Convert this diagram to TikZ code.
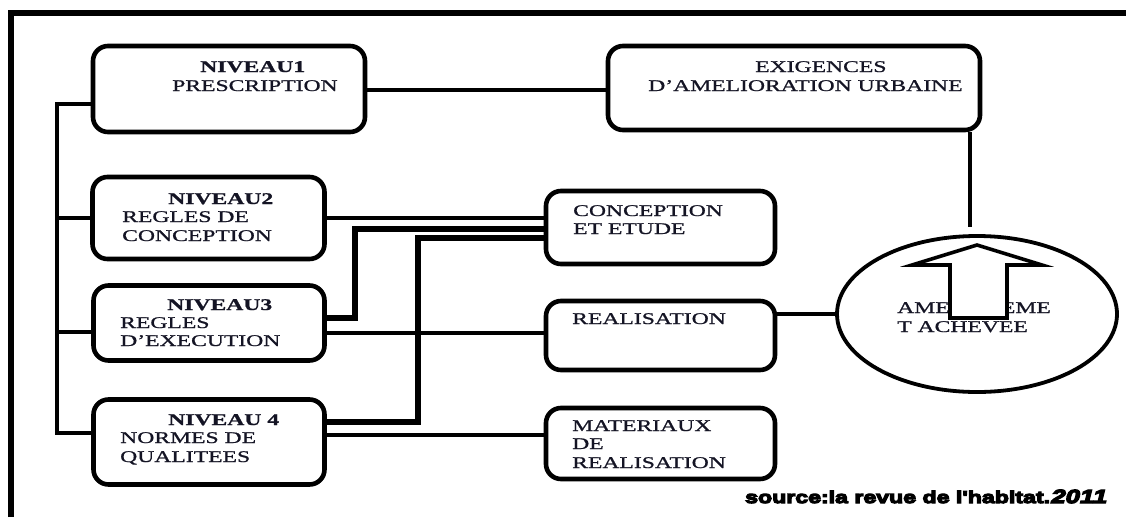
\documentclass[tikz,border=0pt]{standalone}
\usepackage{fontspec}
\setmainfont{Liberation Serif}[FakeStretch=1.45,FakeBold=1]
\newfontfamily\srcfont{Liberation Sans}[UprightFont={* Bold},FakeStretch=1.36,FakeBold=7]
\usetikzlibrary{shapes.geometric}
\definecolor{ink}{RGB}{20,20,36}
\begin{document}
\begin{tikzpicture}[x=1pt,y=-1pt,
  box/.style={draw,line width=4.6pt,rounded corners=15pt,inner sep=0pt},
  wire/.style={line width=4.6pt,line cap=rect},
  wirebig/.style={line width=6pt,line cap=rect},
  txt/.style={anchor=base west,inner sep=0pt,text=ink,font=\fontsize{16.3}{18}\selectfont},
  btxt/.style={txt,font=\fontsize{16.3}{18}\selectfont\bfseries}]
\useasboundingbox (0,0) rectangle (1126,517);

% open frame along the top and the left side
\draw[line width=5.5pt] (11,517) -- (11,13) -- (1126,13);

% boxes
\node[box,minimum width=272pt,minimum height=86pt] (n1) at (229,89) {};
\node[box,minimum width=372pt,minimum height=84pt] (ex) at (794,88) {};
\node[box,minimum width=232pt,minimum height=82pt] (n2) at (208.5,218) {};
\node[box,minimum width=231pt,minimum height=75pt] (n3) at (209,323) {};
\node[box,minimum width=231pt,minimum height=85pt] (n4) at (209,442) {};
\node[box,minimum width=229pt,minimum height=73pt] (conc) at (660.5,227.5) {};
\node[box,minimum width=229pt,minimum height=69pt] (real) at (660.5,335.5) {};
\node[box,minimum width=229pt,minimum height=71pt] (mat) at (660.5,443.5) {};
\node[draw,ellipse,line width=3.8pt,inner sep=0pt,minimum width=280pt,minimum height=156pt] (ell) at (977,314) {};

% texts
\node[btxt] (t1a) at (200,72) {NIVEAU1};
\node[txt]  (t1b) at (172,91) {PRESCRIPTION};
\node[txt]  (txa) at (755,72) {EXIGENCES};
\node[txt]  (txb) at (648,91) {D’AMELIORATION URBAINE};
\node[btxt] (t2a) at (168,204) {NIVEAU2};
\node[txt]  (t2b) at (122,222) {REGLES DE};
\node[txt]  (t2c) at (122,241) {CONCEPTION};
\node[btxt] (t3a) at (167,310) {NIVEAU3};
\node[txt]  (t3b) at (120,328) {REGLES};
\node[txt]  (t3c) at (120,346) {D’EXECUTION};
\node[btxt] (t4a) at (168,425) {NIVEAU 4};
\node[txt]  (t4b) at (120,443) {NORMES DE};
\node[txt]  (t4c) at (120,462) {QUALITEES};
\node[txt]  (tca) at (573,216) {CONCEPTION};
\node[txt]  (tcb) at (573,234) {ET ETUDE};
\node[txt]  (tra) at (572,324) {REALISATION};
\node[txt]  (tma) at (572,431) {MATERIAUX};
\node[txt]  (tmb) at (572,449) {DE};
\node[txt]  (tmc) at (572,468) {REALISATION};
\node[txt]  (tea) at (897,313) {AMENAGEME};
\node[txt]  (teb) at (897,332) {T ACHEVEE};

% hollow arrow inside the ellipse
\draw[line width=3.6pt,fill=white,line join=miter]
  (977,245) -- (1042,265) -- (1007,265) -- (1007,318) -- (950,318)
  -- (950,265) -- (912,265) -- cycle;

% left bus joining the four levels
\draw[wire] (n1.west |- 0,104) -- (57,104) -- (57,433) -- (n4.west |- 0,433);
\draw[wire] (57,218) -- (n2.west |- 0,218);
\draw[wire] (57,332) -- (n3.west |- 0,332);

% upper links
\draw[wire] (n1.east |- 0,90) -- (ex.west |- 0,90);
\coordinate (exend) at (970,227);
\draw[wire,line cap=butt] (ex.south -| exend) -- (exend);

% links into the right-hand column
\draw[wire] (n2.east |- 0,218) -- (conc.west |- 0,218);
\draw[wirebig] (n3.east |- 0,318) -- (355,318) -- (355,229) -- (conc.west |- 0,229);
\draw[wire] (n3.east |- 0,333) -- (real.west |- 0,333);
\draw[wirebig] (n4.east |- 0,422) -- (418,422) -- (418,238) -- (conc.west |- 0,238);
\draw[wire] (n4.east |- 0,435) -- (mat.west |- 0,435);
\draw[wire] (real.east |- ell.west) -- (ell.west);

% source line
\node[anchor=base west,inner sep=0pt,font=\srcfont\fontsize{17}{17}\selectfont] (src) at (745,503)
  {source:la revue de l'habitat.{\addfontfeature{FakeSlant=0.25}\fontsize{19}{19}\selectfont 2011}};
\end{tikzpicture}
\end{document}
